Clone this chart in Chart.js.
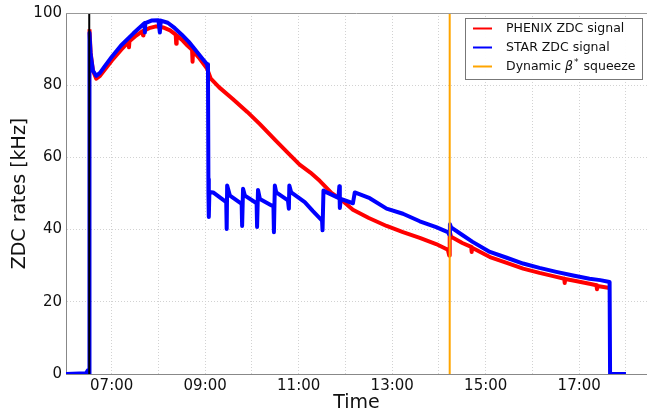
<!DOCTYPE html>
<html>
<head>
<meta charset="utf-8">
<title>ZDC rates</title>
<script src="https://cdn.jsdelivr.net/npm/chart.js@4.4.0/dist/chart.umd.min.js"></script>
<style>
    html, body { margin: 0; padding: 0; background: #fff; }
    #wrap { width: 647px; height: 414px; }
</style>
</head>
<body>
<div id="wrap"><canvas id="zdcChart" width="647" height="414"></canvas></div>
<script>
// Times are hours of the day (6.5 = 06:30), rates in kHz
const phenixTime = [6.525, 6.55, 6.60, 6.67, 6.75, 6.85, 7.00, 7.20, 7.36, 7.37, 7.38, 7.50, 7.66, 7.67, 7.68,
    7.80, 7.95, 8.10, 8.25, 8.37, 8.38, 8.39, 8.50, 8.62, 8.72, 8.73, 8.74, 8.88, 9.04, 9.12, 9.30, 9.59,
    9.90, 10.17, 10.50, 10.79, 11.02, 11.25, 11.45, 11.70, 11.88, 12.16, 12.50, 12.88, 13.23, 13.59, 13.94,
    14.19, 14.22, 14.23, 14.26, 14.50, 14.69, 14.70, 14.71, 15.09, 15.45, 15.80, 16.15, 16.51, 16.68, 16.69,
    16.70, 16.87, 17.22, 17.37, 17.38, 17.39, 17.65];
const phenixRate = [95.5, 89, 84, 81.8, 82.6, 84.3, 86.8, 89.8, 92, 90.5, 92.2, 93.5, 95, 93.8, 95,
    95.8, 96.3, 96, 95.2, 94, 91.5, 93.8, 92.6, 91, 89.8, 86.5, 89.5, 87.4, 84.6, 81.8, 79.4, 76.2,
    72.6, 69.2, 64.8, 61, 58, 55.8, 53.5, 50.2, 48.6, 45.5, 43.2, 41, 39.3, 37.7, 36,
    34.4, 32.8, 39.5, 38, 36.3, 35.2, 33.8, 35, 32.4, 30.8, 29.2, 28, 26.9, 26.4, 25.2,
    26.3, 25.9, 25, 24.6, 23.5, 24.4, 23.8];

const starTime = [6.023, 6.45, 6.49, 6.51, 6.52, 6.525, 6.55, 6.60, 6.67, 6.75, 6.85, 7.00, 7.20, 7.46, 7.60,
    7.70, 7.71, 7.72, 7.85, 8.00, 8.03, 8.05, 8.20, 8.35, 8.50, 8.65, 8.80, 8.95, 9.04, 9.06,
    9.07, 9.075, 9.08, 9.09, 9.17, 9.45, 9.46, 9.47, 9.53, 9.78, 9.79, 9.81, 9.85, 10.10, 10.11, 10.13,
    10.17, 10.42, 10.46, 10.47, 10.49, 10.52, 10.77, 10.79, 10.80, 10.84, 11.13, 11.30, 11.50, 11.51, 11.53,
    11.60, 11.85, 11.87, 11.88, 11.90, 12.16, 12.20, 12.52, 12.88, 13.23, 13.59, 13.94, 14.19, 14.22,
    14.235, 14.26, 14.50, 14.72, 15.09, 15.45, 15.80, 16.15, 16.51, 16.87, 17.22, 17.45, 17.65, 17.66, 18.00];
const starRate = [0, 0.2, 1.0, 0.3, 0, 94.5, 88.5, 84, 82.6, 83.4, 85.2, 87.8, 91, 94.3, 96,
    97.2, 94.6, 97.2, 97.9, 98, 94.6, 97.9, 97.3, 95.8, 94, 92, 89.6, 87.2, 85.8, 84,
    49.9, 54, 43.5, 50.4, 50.3, 47.6, 40.2, 52.2, 49.4, 47.1, 41, 51.3, 49.4, 47.3, 40.7, 51,
    48.5, 46.7, 46.5, 39.3, 52.2, 50.3, 48.1, 45.8, 52.2, 50.3, 47.6, 45.2, 42.5, 39.8, 50.8,
    50.3, 48.8, 52, 46, 48.5, 47.3, 50.3, 48.7, 45.8, 44.4, 42.3, 40.7, 39.3, 38.6,
    41.5, 40.6, 38.5, 36.6, 33.8, 32.2, 30.6, 29.4, 28.3, 27.3, 26.4, 26, 25.5, 0, 0];

// Vertical markers
const injectionTime = 6.52;
const squeezeTime = 14.23;

// Axis ticks
const gridHours = [7, 8, 9, 10, 11, 12, 13, 14, 15, 16, 17, 18];
const timeLabels = ['07:00', '09:00', '11:00', '13:00', '15:00', '17:00'];
const rateTicks = [0, 20, 40, 60, 80, 100];

const toPoints = (xs, ys) => xs.map((x, i) => ({ x: x, y: ys[i] }));
const vertical = (x) => [{ x: x, y: 0 }, { x: x, y: 100 }];

const fontFamily = '"DejaVu Sans", "Liberation Sans", sans-serif';

// Draws the top spine and the legend box inside the plot area
const frameAndLegend = {
    id: 'frameAndLegend',
    afterDraw(chart) {
        const { ctx, chartArea } = chart;
        ctx.save();
        ctx.strokeStyle = '#999';
        ctx.lineWidth = 1;
        ctx.beginPath();
        ctx.moveTo(chartArea.left, chartArea.top + 0.5);
        ctx.lineTo(chartArea.right, chartArea.top + 0.5);
        ctx.stroke();

        const box = { x: 465.5, y: 18.5, w: 177, h: 61 };
        ctx.fillStyle = 'rgba(255,255,255,0.95)';
        ctx.fillRect(box.x, box.y, box.w, box.h);
        ctx.strokeStyle = '#777';
        ctx.strokeRect(box.x, box.y, box.w, box.h);

        const items = chart.data.datasets.filter(ds => ds.label);
        const rowY = [28.5, 47.5, 66.5];
        ctx.textBaseline = 'middle';
        items.forEach((ds, i) => {
            const y = rowY[i];
            ctx.strokeStyle = ds.borderColor;
            ctx.lineWidth = 2;
            ctx.beginPath();
            ctx.moveTo(473, y);
            ctx.lineTo(492, y);
            ctx.stroke();

            ctx.fillStyle = '#111';
            let x = 506;
            const parts = ds.label.split('β*');
            ctx.font = '12.5px ' + fontFamily;
            ctx.fillText(parts[0], x, y);
            if (parts.length > 1) {
                x += ctx.measureText(parts[0]).width;
                ctx.font = 'italic 12.5px ' + fontFamily;
                ctx.fillText('β', x, y);
                x += ctx.measureText('β').width + 1;
                ctx.font = '9px ' + fontFamily;
                ctx.fillText('*', x, y - 4);
                x += ctx.measureText('*').width + 1;
                ctx.font = '12.5px ' + fontFamily;
                ctx.fillText(parts[1], x, y);
            }
        });
        ctx.restore();
    }
};

const ctx = document.getElementById('zdcChart').getContext('2d');

new Chart(ctx, {
    type: 'line',
    data: {
        datasets: [
            {
                data: vertical(injectionTime),
                borderColor: '#000',
                borderWidth: 2,
                order: 0
            },
            {
                label: 'PHENIX ZDC signal',
                data: toPoints(phenixTime, phenixRate),
                borderColor: '#ff0000',
                borderWidth: 4,
                order: 3
            },
            {
                label: 'STAR ZDC signal',
                data: toPoints(starTime, starRate),
                borderColor: '#0000ff',
                borderWidth: 4,
                order: 2
            },
            {
                label: 'Dynamic β* squeeze',
                data: vertical(squeezeTime),
                borderColor: '#ffa500',
                borderWidth: 2,
                order: 1
            }
        ]
    },
    options: {
        responsive: false,
        animation: false,
        events: [],
        layout: { padding: { top: 12, right: 0, bottom: 0, left: 0 } },
        elements: {
            point: { radius: 0 },
            line: { tension: 0, borderJoinStyle: 'round', fill: false }
        },
        plugins: {
            legend: { display: false },
            tooltip: { enabled: false }
        },
        scales: {
            x: {
                type: 'linear',
                min: 6.023,
                max: 18.45,
                afterFit: (scale) => { scale.height = 40; },
                afterBuildTicks: (scale) => { scale.ticks = gridHours.map(h => ({ value: h })); },
                ticks: {
                    autoSkip: false,
                    maxRotation: 0,
                    padding: 3,
                    color: '#111',
                    font: { family: fontFamily, size: 15 },
                    callback: (value) => {
                        const s = String(value).padStart(2, '0') + ':00';
                        return timeLabels.includes(s) ? s : '';
                    }
                },
                grid: { color: '#d2d2d2', lineWidth: 1, drawTicks: false },
                border: { color: '#888', width: 1, dash: [1, 2] },
                title: {
                    display: true,
                    text: 'Time',
                    color: '#111',
                    font: { family: fontFamily, size: 19 },
                    padding: { top: 0, bottom: 0 }
                }
            },
            y: {
                min: 0,
                max: 100,
                afterFit: (scale) => { scale.width = 66; },
                afterBuildTicks: (scale) => { scale.ticks = rateTicks.map(v => ({ value: v })); },
                ticks: {
                    padding: 4,
                    color: '#111',
                    font: { family: fontFamily, size: 15 }
                },
                grid: { color: '#d2d2d2', lineWidth: 1, drawTicks: false },
                border: { color: '#888', width: 1, dash: [1, 2] },
                title: {
                    display: true,
                    text: 'ZDC rates [kHz]',
                    color: '#111',
                    font: { family: fontFamily, size: 19 },
                    padding: { top: 9, bottom: 0 }
                }
            }
        }
    },
    plugins: [frameAndLegend]
});
</script>
</body>
</html>
